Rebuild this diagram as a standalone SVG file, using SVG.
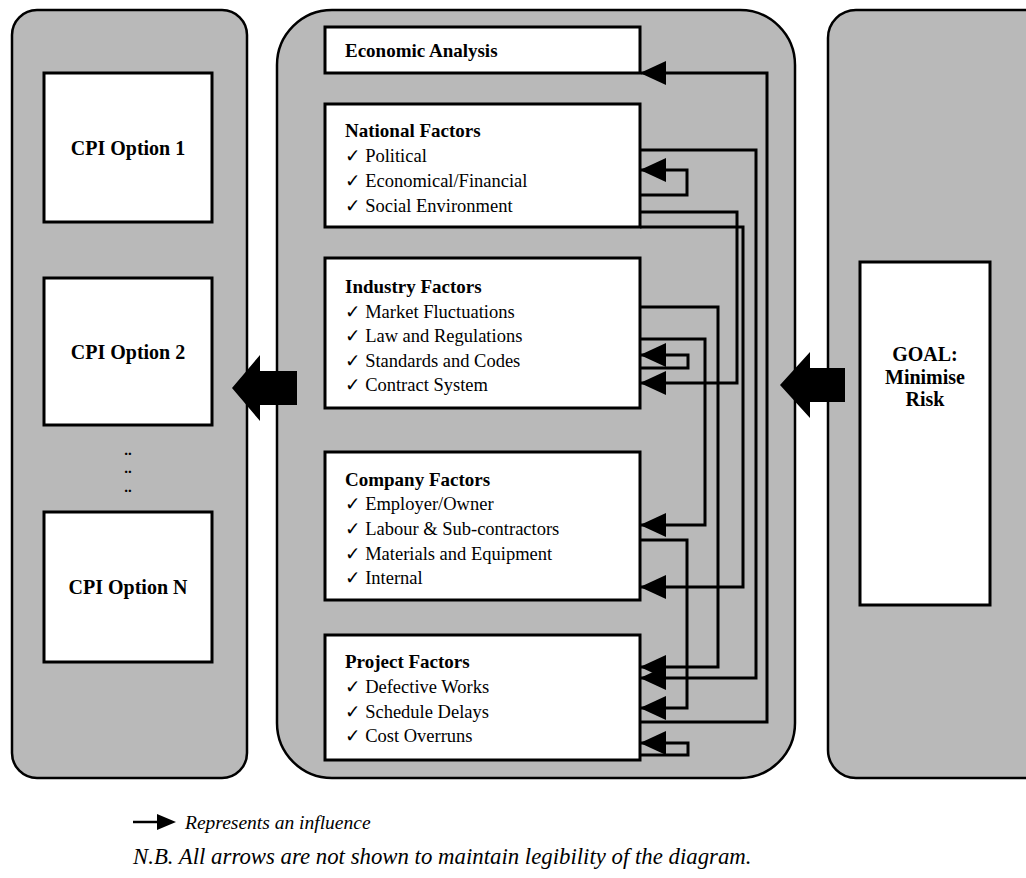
<svg xmlns="http://www.w3.org/2000/svg" width="1026" height="878" viewBox="0 0 1026 878">
  <defs>
    <!-- arrowhead used by all influence connectors -->
    <marker id="ah" markerUnits="userSpaceOnUse" viewBox="0 0 26 24" refX="25" refY="12" markerWidth="26" markerHeight="24" orient="auto">
      <path d="M0,0 L26,12 L0,24 Z" fill="#000"/>
    </marker>
  </defs>
  <style>
    .panel{fill:#b9b9b9;stroke:#000;stroke-width:2.5}
    .box{fill:#fff;stroke:#000;stroke-width:3}
    .link{fill:none;stroke:#000;stroke-width:3;marker-end:url(#ah)}
    .hd{font-family:"Liberation Serif","Times New Roman",serif;font-weight:bold;font-size:19px;fill:#000}
    .it{font-family:"Liberation Serif","DejaVu Sans",serif;font-size:18.5px;fill:#000}
    .big{font-family:"Liberation Serif","Times New Roman",serif;font-weight:bold;font-size:20px;fill:#000;text-anchor:middle}
    .dots{font-family:"Liberation Serif","Times New Roman",serif;font-weight:bold;font-size:15px;fill:#000;text-anchor:middle}
    .note{font-family:"Liberation Serif","Times New Roman",serif;font-style:italic;fill:#000}
    .fat{fill:#000}
  </style>

  <!-- background columns -->
  <g id="panels">
    <rect class="panel" x="12" y="10" width="235" height="768" rx="25"/>
    <rect class="panel" x="277" y="10" width="518" height="768" rx="55"/>
    <rect class="panel" x="828" y="10" width="240" height="768" rx="28"/>
  </g>

  <!-- options column -->
  <g id="cpi-option-1">
    <rect class="box" x="44" y="73" width="168" height="149"/>
    <text class="big" x="128" y="155">CPI Option 1</text>
  </g>
  <g id="cpi-option-2">
    <rect class="box" x="44" y="278" width="168" height="147"/>
    <text class="big" x="128" y="359">CPI Option 2</text>
  </g>
  <g id="cpi-ellipsis">
    <text class="dots" x="128" y="455">..</text>
    <text class="dots" x="128" y="473">..</text>
    <text class="dots" x="128" y="492">..</text>
  </g>
  <g id="cpi-option-n">
    <rect class="box" x="44" y="512" width="168" height="150"/>
    <text class="big" x="128" y="594">CPI Option N</text>
  </g>

  <!-- factor column -->
  <g id="economic-analysis">
    <rect class="box" x="325" y="27" width="315" height="46"/>
    <text class="hd" x="345" y="57">Economic Analysis</text>
  </g>
  <g id="national-factors">
    <rect class="box" x="325" y="104" width="315" height="123"/>
    <text class="hd" x="345" y="137">National Factors</text>
    <text class="it" x="345" y="162">✓ Political</text>
    <text class="it" x="345" y="187">✓ Economical/Financial</text>
    <text class="it" x="345" y="212">✓ Social Environment</text>
  </g>
  <g id="industry-factors">
    <rect class="box" x="325" y="258" width="315" height="150"/>
    <text class="hd" x="345" y="293">Industry Factors</text>
    <text class="it" x="345" y="318">✓ Market Fluctuations</text>
    <text class="it" x="345" y="342">✓ Law and Regulations</text>
    <text class="it" x="345" y="367">✓ Standards and Codes</text>
    <text class="it" x="345" y="391">✓ Contract System</text>
  </g>
  <g id="company-factors">
    <rect class="box" x="325" y="452" width="315" height="148"/>
    <text class="hd" x="345" y="486">Company Factors</text>
    <text class="it" x="345" y="510">✓ Employer/Owner</text>
    <text class="it" x="345" y="535">✓ Labour &amp; Sub-contractors</text>
    <text class="it" x="345" y="560">✓ Materials and Equipment</text>
    <text class="it" x="345" y="584">✓ Internal</text>
  </g>
  <g id="project-factors">
    <rect class="box" x="325" y="635" width="315" height="125"/>
    <text class="hd" x="345" y="668">Project Factors</text>
    <text class="it" x="345" y="693">✓ Defective Works</text>
    <text class="it" x="345" y="718">✓ Schedule Delays</text>
    <text class="it" x="345" y="742">✓ Cost Overruns</text>
  </g>

  <!-- goal column -->
  <g id="goal">
    <rect class="box" x="860" y="262" width="130" height="343"/>
    <text class="big" x="925" y="361">GOAL:</text>
    <text class="big" x="925" y="384">Minimise</text>
    <text class="big" x="925" y="406">Risk</text>
  </g>

  <!-- block arrows between columns -->
  <g id="flow-arrows">
    <polygon class="fat" points="232,388 260,355 260,371 297,371 297,405 260,405 260,421"/>
    <polygon class="fat" points="780,385 810,352 810,368 845,368 845,402 810,402 810,418"/>
  </g>

  <!-- influence connectors -->
  <g id="connectors">
    <path class="link" d="M640,722 H767 V73 H641"/>
    <path class="link" d="M640,150 H756 V678 H641"/>
    <path class="link" d="M640,227 H743 V587 H641"/>
    <path class="link" d="M640,212 H737 V383 H641"/>
    <path class="link" d="M640,307 H718 V667 H641"/>
    <path class="link" d="M640,339 H705 V525 H641"/>
    <path class="link" d="M640,540 H687 V708 H641"/>
    <path class="link" d="M640,195 H687 V170 H641"/>
    <path class="link" d="M640,368 H688 V355 H641"/>
    <path class="link" d="M640,755 H688 V743 H641"/>
  </g>

  <!-- legend -->
  <g id="legend">
    <line x1="133" y1="822" x2="160" y2="822" stroke="#000" stroke-width="2.5"/>
    <polygon class="fat" points="157,814 176,822 157,830"/>
    <text class="note" x="185" y="829" font-size="19.5">Represents an influence</text>
    <text class="note" x="133" y="864" font-size="22.8">N.B. All arrows are not shown to maintain legibility of the diagram.</text>
  </g>
</svg>
